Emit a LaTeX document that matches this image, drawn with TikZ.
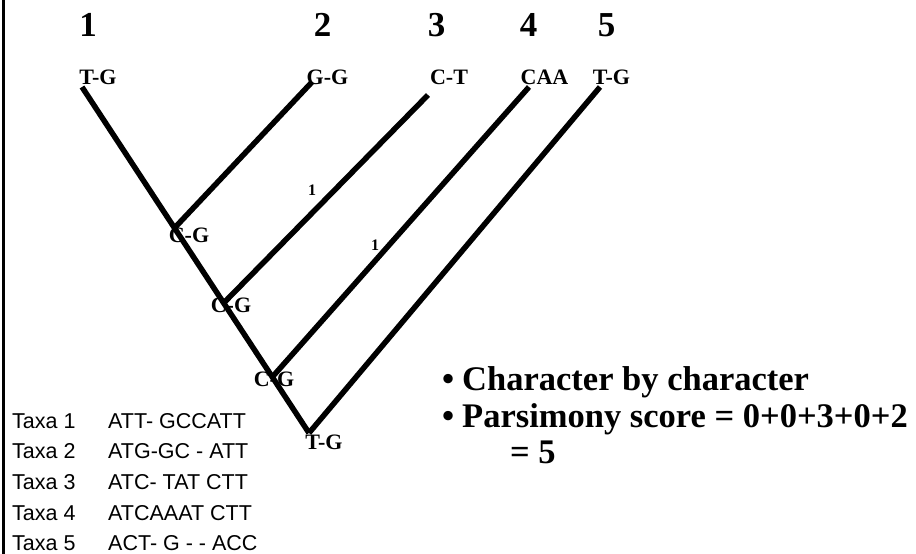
\documentclass[tikz,border=0pt]{standalone}
\usepackage{fontspec}
\setmainfont{Liberation Serif}
\newfontfamily\arialfont{Liberation Sans}
\usetikzlibrary{positioning}

\begin{document}
\begin{tikzpicture}[x=1pt,y=-1pt,
    branch/.style={line width=5.5pt},
    num/.style={font=\bfseries\fontsize{35}{35}\selectfont, inner sep=0pt},
    chars/.style={font=\bfseries\fontsize{22}{22}\selectfont, inner sep=0pt},
    cost/.style={font=\bfseries\fontsize{16}{16}\selectfont, inner sep=0pt},
    taxa/.style={font=\arialfont\fontsize{21.5}{21.5}\selectfont, inner sep=0pt, anchor=base west},
    point/.style={font=\bfseries\fontsize{34.5}{34.5}\selectfont, inner sep=0pt, anchor=base west}]
      \useasboundingbox (0,0) rectangle (916,554);

      % Left rule
      \draw[line width=2.5pt] (3.5,0) -- (3.5,554);

      % Taxon numbers
      \foreach \x [count=\i] in {88,322.5,436.5,528.5,606.5}
        \node[num] (k\i) at (\x,25) {\i};

      % Leaf states
      \foreach \x/\s [count=\i] in {98/T-G,327.5/G-G,449/C-T,544.5/CAA,611.5/T-G}
        \node[chars] (s\i) at (\x,77.5) {\s};

      % Branch ends
      \coordinate (l1) at (82,87);
      \coordinate (l2) at (312,82);
      \coordinate (l3) at (428,95);
      \coordinate (l4) at (529,87);
      \coordinate (l5) at (600,87);

      % Inner nodes
      \coordinate (n1) at (174.5,228);
      \coordinate (n2) at (223.7,303);
      \coordinate (n3) at (272.3,377);
      \coordinate (r) at (309,433);

      % Branches
      \draw[branch] (l1) -- (n1) -- (n2) -- (n3) -- (r);
      \draw[branch] (l2) -- (n1);
      \draw[branch] (l3) -- (n2);
      \draw[branch] (l4) -- (n3);
      \draw[branch] (l5) -- (r);

      % Inner states
      \node[chars] (c1) at (189,235) {C-G};
      \node[chars] (c2) at (231,305) {C-G};
      \node[chars] (c3) at (274,379) {C-G};
      \node[chars] (c4) at (324,442) {T-G};

      % Changes on branches
      \node[cost] (m1) at (312,190) {1};
      \node[cost] (m2) at (375,245) {1};

      % Alignment
      \foreach \s [count=\i] in {ATT- GCCATT,ATG-GC - ATT,ATC- TAT CTT,ATCAAAT CTT,ACT- G - - ACC}
      {
        \node[taxa] (t\i) at (12,{397.3+30.7*\i}) {Taxa \i};
        \node[taxa] (q\i) at (108,{397.3+30.7*\i}) {\s};
      }

      % Score
      \node[point] (p1) at (442,390) {\textbullet\hspace{8pt}Character by character};
      \node[point] (p2) at (442,427) {\textbullet\hspace{8pt}Parsimony score = 0+0+3+0+2};
      \node[point] (p3) at (510,463) {= 5};
\end{tikzpicture}
\end{document}
